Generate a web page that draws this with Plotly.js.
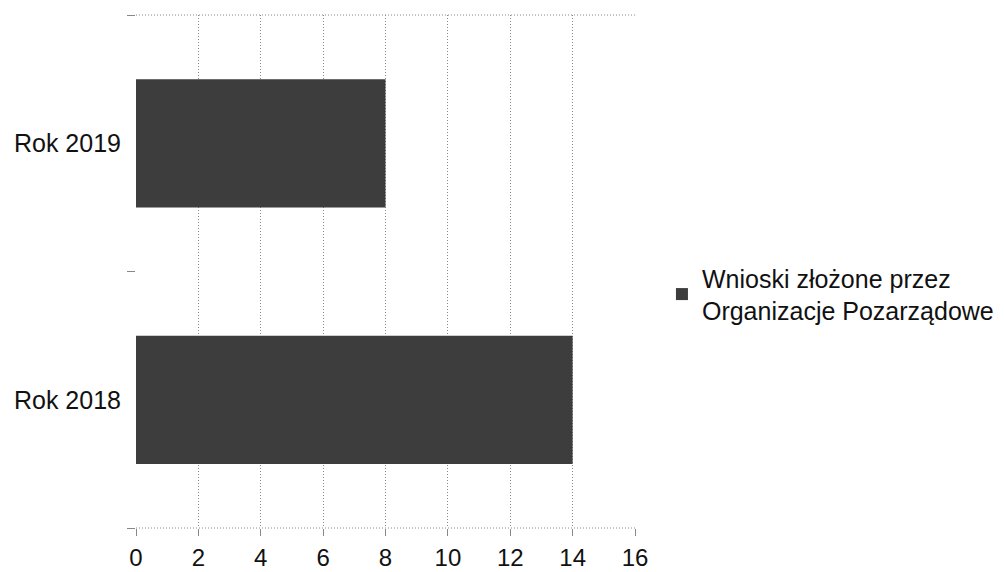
<!DOCTYPE html>
<html>
<head>
<meta charset="utf-8">
<script src="https://cdn.plot.ly/plotly-3.0.1.min.js"></script>
<style>html,body{margin:0;padding:0;background:#fff;}#chart{width:1004px;height:572px;}</style>
</head>
<body>
<div id="chart"></div>
<script>
const categories = ["Rok 2018", "Rok 2019"];
const values = [14, 8];
const seriesName = "Wnioski złożone przez<br>Organizacje Pozarządowe";
const xTicks = [0, 2, 4, 6, 8, 10, 12, 14, 16];

const trace = {
  type: "bar",
  orientation: "h",
  y: categories,
  x: values,
  name: seriesName,
  width: 0.5,
  marker: {color: "#3d3d3d", line: {width: 0}},
  showlegend: true,
  hoverinfo: "x+y"
};

const layout = {
  width: 1004,
  height: 572,
  margin: {l: 136, r: 369, t: 15, b: 44, autoexpand: false},
  paper_bgcolor: "#fff",
  plot_bgcolor: "#fff",
  font: {family: "Liberation Sans, Arial, sans-serif", color: "#111"},
  showlegend: true,
  legend: {
    x: 1.054, xanchor: "left", y: 0.456, yanchor: "middle",
    font: {size: 25, color: "#111"},
    bgcolor: "rgba(0,0,0,0)"
  },
  xaxis: {
    range: [0, 16],
    tickvals: xTicks,
    ticktext: xTicks.map(String),
    showgrid: true,
    gridcolor: "#888",
    griddash: "1px,2px",
    gridwidth: 1,
    zeroline: false,
    showline: false,
    ticks: "outside",
    ticklen: 7,
    tickcolor: "#888",
    ticklabelstandoff: 1,
    tickfont: {size: 24, color: "#111"},
    fixedrange: true
  },
  yaxis: {
    type: "category",
    categoryorder: "array",
    categoryarray: categories,
    range: [-0.5, 1.5],
    tickson: "boundaries",
    ticks: "outside",
    ticklen: 8,
    tickcolor: "#888",
    showgrid: false,
    zeroline: false,
    showline: false,
    ticklabelstandoff: 14,
    tickfont: {size: 25, color: "#111"},
    fixedrange: true
  },
  shapes: [
    {type: "line", xref: "paper", yref: "paper", x0: 0, x1: 1, y0: 1, y1: 1,
     line: {color: "#888", width: 1, dash: "1px,2px"}},
    {type: "line", xref: "paper", yref: "paper", x0: 0, x1: 1, y0: 0, y1: 0,
     line: {color: "#888", width: 1, dash: "1px,2px"}}
  ]
};

Plotly.newPlot("chart", [trace], layout, {displayModeBar: false, staticPlot: true});
</script>
</body>
</html>
